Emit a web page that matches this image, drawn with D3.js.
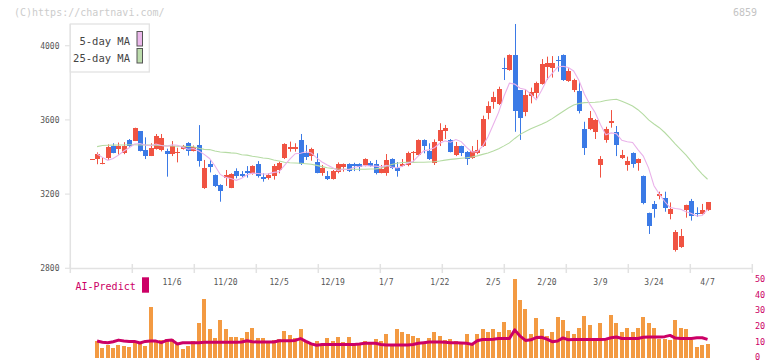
<!DOCTYPE html>
<html><head><meta charset="utf-8">
<script src="https://cdnjs.cloudflare.com/ajax/libs/d3/7.8.5/d3.min.js"></script>
<style>
body{margin:0;background:#fff;}
svg{display:block;}
text{font-family:"DejaVu Sans Mono",monospace;}
</style></head><body><svg id="c" width="772" height="361"></svg>
<script>
const open=[3390,3388,3366,3396,3459,3445,3423,3492,3488,3540,
 3436,3407,3445,3440,3434,3414,3427,3445,3477,3434,
 3465,3235,3362,3303,3251,3287,3235,3324,3308,3324,
 3310,3362,3292,3289,3299,3330,3396,3448,3450,3492,
 3423,3405,3371,3316,3298,3281,3319,3348,3362,3362,
 3362,3357,3369,3362,3316,3312,3389,3341,3353,3357,
 3420,3411,3492,3432,3369,3486,3542,3492,3413,3459,
 3429,3396,3423,3461,3639,3698,3686,3880,3869,3950,
 3761,3641,3731,3743,3793,3887,3882,3925,3950,3811,
 3761,3756,3551,3551,3537,3357,3492,3588,3537,3396,
 3357,3423,3366,3298,3100,3147,3195,3181,3093,2899,
 2917,3114,3163,3097,3093,3114];
const high=[3390,3425,3396,3468,3474,3478,3480,3497,3558,3540,
 3506,3474,3524,3524,3445,3486,3450,3465,3480,3462,
 3572,3384,3384,3306,3253,3330,3312,3339,3324,3351,
 3355,3378,3312,3312,3362,3375,3474,3483,3474,3524,
 3465,3450,3420,3357,3324,3330,3371,3365,3366,3369,
 3366,3393,3378,3384,3357,3416,3393,3373,3389,3429,
 3432,3495,3495,3474,3495,3582,3573,3497,3481,3461,
 3432,3459,3492,3623,3700,3752,3779,3935,3953,4117,
 3761,3761,3774,3806,3928,3941,3944,3944,3953,3878,
 3822,3806,3590,3648,3605,3405,3563,3653,3567,3438,
 3402,3425,3392,3300,3100,3163,3213,3213,3155,3006,
 3012,3143,3174,3129,3147,3156];
const low=[3390,3361,3361,3384,3420,3413,3415,3455,3486,3430,
 3389,3405,3440,3430,3294,3405,3371,3440,3407,3430,
 3348,3228,3317,3238,3159,3244,3232,3285,3289,3289,
 3305,3289,3267,3278,3278,3312,3389,3429,3429,3357,
 3384,3380,3312,3299,3276,3278,3312,3321,3319,3324,
 3324,3350,3348,3306,3312,3299,3335,3294,3348,3350,
 3371,3405,3420,3384,3357,3459,3497,3425,3405,3405,
 3357,3390,3415,3455,3603,3660,3680,3815,3865,3536,
 3492,3620,3689,3716,3790,3815,3828,3860,3810,3805,
 3750,3635,3411,3545,3497,3289,3477,3558,3405,3389,
 3326,3342,3326,3145,2985,3073,3172,3105,3064,2890,
 2910,3073,3057,3078,3090,3110];
const close=[3390,3418,3370,3452,3423,3459,3459,3459,3556,3434,
 3407,3448,3513,3502,3414,3461,3429,3461,3434,3456,
 3380,3341,3348,3242,3218,3303,3308,3299,3296,3312,
 3351,3298,3283,3303,3351,3366,3470,3452,3452,3362,
 3402,3443,3316,3343,3283,3324,3362,3362,3324,3351,
 3348,3387,3351,3316,3335,3384,3342,3326,3362,3423,
 3429,3492,3461,3389,3481,3546,3556,3429,3459,3423,
 3391,3432,3438,3605,3677,3722,3767,3876,3950,3648,
 3612,3734,3749,3797,3900,3905,3905,3920,3815,3864,
 3815,3648,3450,3612,3599,3389,3551,3592,3465,3411,
 3380,3360,3389,3150,3030,3120,3198,3127,3118,2997,
 2976,3141,3084,3093,3114,3156];
const ma5=[null,3416,3398,3382,3392,3410,3432,3450,3470,3473,
 3465,3461,3470,3462,3458,3466,3463,3453,3442,3446,
 3432,3414,3392,3353,3306,3290,3284,3274,3285,3304,
 3313,3311,3308,3309,3317,3320,3355,3388,3418,3420,
 3428,3422,3395,3373,3357,3342,3326,3335,3331,3345,
 3349,3354,3352,3351,3347,3355,3346,3341,3350,3367,
 3376,3406,3433,3439,3450,3474,3487,3480,3494,3483,
 3452,3427,3429,3458,3509,3575,3642,3729,3798,3793,
 3771,3764,3739,3708,3758,3817,3851,3885,3889,3882,
 3864,3812,3740,3685,3640,3575,3520,3530,3525,3490,
 3482,3478,3440,3405,3340,3245,3200,3160,3128,3122,
 3118,3105,3095,3082,3085,3118];
const ma25=[null,3456,3462,3463,3464,3465,3465,3466,3466,3465,
 3465,3464,3463,3462,3460,3459,3458,3458,3457,3455,
 3447,3441,3440,3432,3427,3425,3422,3420,3412,3410,
 3404,3400,3395,3392,3384,3378,3372,3369,3368,3366,
 3364,3361,3355,3348,3342,3338,3335,3334,3334,3334,
 3334,3334,3335,3336,3340,3350,3360,3366,3370,3371,
 3371,3372,3372,3373,3374,3378,3383,3387,3390,3393,
 3396,3400,3406,3414,3422,3432,3445,3460,3476,3500,
 3522,3538,3552,3564,3576,3590,3607,3626,3645,3664,
 3680,3688,3693,3694,3695,3698,3705,3709,3711,3700,
 3688,3675,3655,3630,3600,3578,3558,3532,3502,3470,
 3440,3410,3375,3340,3308,3280];
const volume=[null,10.6,6.2,7.9,6.2,7.9,7.5,6.9,9.0,9.4,
 7.3,32,10.2,11.0,11.7,11.5,9.0,5.4,7.3,10.6,
 22,37,18,12.3,23.7,18.3,12.9,12.9,12.3,16.3,
 18.7,12.3,12.3,10.6,11.0,11.7,16.8,14.2,12.3,18,
 10.4,9.4,10.6,7.5,12.3,10.4,12.9,9.6,12.9,9.0,
 9.0,10.4,9.6,11.7,10.4,14.9,7.9,18,16.3,14.9,
 13.6,12.3,9.8,12.3,16.3,13.6,11.0,11.7,10.2,9.4,
 14.9,7.9,14.9,18,16.3,18,16.3,22.5,17.4,49.7,
 36.4,30.7,14.9,25,18,13.6,16.3,25.6,23.7,17,
 14.9,18.7,26.3,20.6,10.9,21.8,10.9,26.9,22,16.3,
 18.7,16.3,18.7,25.6,22,18.7,11.7,11.7,11,23.7,
 18.7,18,11,6.6,7.9,8.4];
const aiPredict=[null,10.4,9.6,9.4,10.0,11.0,10.4,10.2,10.2,9.2,
 10.2,10.4,10.4,9.4,10.8,11.0,8.6,9.3,9.4,9.4,
 9.4,9.6,9.6,9.6,9.6,9.6,9.6,9.6,9.8,10.6,
 10.0,9.8,9.8,9.8,9.8,10.6,10.6,10.6,10.8,12.0,
 10.2,8.6,7.8,8.2,8.3,8.3,8.3,8.3,8.3,8.3,
 8.5,9.0,9.0,9.0,8.2,7.9,7.9,7.9,7.9,7.9,
 8.2,9.0,9.4,9.8,9.8,9.8,9.6,9.4,9.4,9.2,
 9.0,8.3,10.6,11.4,11.4,11.6,12.0,12.0,12.0,17.5,
 13.5,10.8,11.2,12.6,12.8,11.6,10.0,10.4,12.4,11.2,
 11.4,11.4,11.4,11.4,11.4,11.4,11.6,12.5,13.0,12.0,
 12.0,12.0,12.0,12.8,12.9,12.9,12.9,13.2,14.0,12.3,
 12.0,12.0,12.0,12.5,12.5,11.5];
const xLabelIdx=[15,25,35,45,55,65,75,85,95,105,115];
const xLabels=["11/6","11/20","12/5","12/19","1/7","1/22","2/5","2/20","3/9","3/24","4/7"];
const priceTicks=[2800,3200,3600,4000];
const volTicks=[0,10,20,30,40,50];

const UP="#f05342", DOWN="#3b7ae6", AXIS="#e2e2e2", MAG="#cc0066";
const svg=d3.select("#c");
const idx=d3.range(close.length);
const x=d3.scaleLinear().domain([-4,123.36]).range([70.3,752.3]);
const y=d3.scaleLinear().domain([2800,4000]).range([268.3,45.7]);
const yv=d3.scaleLinear().domain([0,50]).range([357.5,278.5]);

// header texts
svg.append("text").attr("x",14).attr("y",16).attr("font-size",10).attr("fill","#cccccc").text("(C)https://chartnavi.com/");
svg.append("text").attr("x",757).attr("y",16).attr("text-anchor","end").attr("font-size",10).attr("fill","#c4c4c4").text("6859");

// axes
const dom=x.domain();
const xTickVals=d3.range(12).map(k=>dom[0]+k*(dom[1]-dom[0])/11);
svg.append("line").attr("x1",x(dom[0])).attr("x2",x(dom[0])).attr("y1",24).attr("y2",268.5).attr("stroke",AXIS).attr("stroke-width",1.5);
svg.append("line").attr("x1",x(dom[0])).attr("x2",x(dom[1])).attr("y1",268.5).attr("y2",268.5).attr("stroke",AXIS).attr("stroke-width",1.5);
svg.selectAll(".xt").data(xTickVals).join("line").attr("x1",d=>x(d)).attr("x2",d=>x(d)).attr("y1",264).attr("y2",273).attr("stroke",AXIS).attr("stroke-width",1.5);
svg.selectAll(".yt").data(priceTicks).join("line").attr("x1",65).attr("x2",70.3).attr("y1",d=>y(d)).attr("y2",d=>y(d)).attr("stroke",AXIS).attr("stroke-width",1.2);
svg.selectAll(".yl").data(priceTicks).join("text").attr("x",59.5).attr("y",d=>y(d)+3).attr("text-anchor","end").attr("font-size",8).attr("fill","#555").text(d=>d);
svg.selectAll(".xl").data(xLabelIdx).join("text").attr("x",d=>x(d)).attr("y",285).attr("text-anchor","middle").attr("font-size",8).attr("fill","#555").text((d,i)=>xLabels[i]);

// candles
const g=svg.append("g");
const col=i=>close[i]>=open[i]?UP:DOWN;
g.selectAll(".wick").data(idx).join("line")
 .attr("x1",i=>Math.round(x(i))+0.5).attr("x2",i=>Math.round(x(i))+0.5)
 .attr("y1",i=>y(high[i])).attr("y2",i=>y(low[i]))
 .attr("stroke",col).attr("stroke-width",1);
g.selectAll(".body").data(idx).join("rect")
 .attr("x",i=>Math.round(x(i))-2).attr("width",5)
 .attr("y",i=>y(Math.max(open[i],close[i])))
 .attr("height",i=>Math.max(1.2,y(Math.min(open[i],close[i]))-y(Math.max(open[i],close[i]))))
 .attr("fill",col).attr("shape-rendering","crispEdges");

// MA lines
const mline=d3.line().defined(d=>d[1]!=null).x(d=>x(d[0])).y(d=>y(d[1]));
svg.append("path").attr("d",mline(ma25.map((v,i)=>[i,v]))).attr("fill","none").attr("stroke","#b5dba3").attr("stroke-width",1.1);
svg.append("path").attr("d",mline(ma5.map((v,i)=>[i,v]))).attr("fill","none").attr("stroke","#eab2ea").attr("stroke-width",1.1);

// legend
svg.append("rect").attr("x",70.3).attr("y",24).attr("width",79).attr("height",48).attr("fill","#fff").attr("stroke","#e2e2e2").attr("stroke-width",1.3);
svg.append("text").attr("x",130).attr("y",45).attr("text-anchor","end").attr("font-size",10.5).attr("fill","#444").text("5-day MA");
svg.append("text").attr("x",130).attr("y",61.5).attr("text-anchor","end").attr("font-size",10.5).attr("fill","#444").text("25-day MA");
svg.append("rect").attr("x",137).attr("y",31.5).attr("width",5.5).attr("height",14.5).attr("fill","#ebb8eb").attr("stroke","#555").attr("stroke-width",1);
svg.append("rect").attr("x",137).attr("y",48.5).attr("width",5.5).attr("height",14.5).attr("fill","#bcdcac").attr("stroke","#555").attr("stroke-width",1);

// volume panel
svg.selectAll(".vol").data(idx.filter(i=>volume[i]!=null)).join("rect")
 .attr("x",i=>Math.round(x(i))-2.5).attr("width",4)
 .attr("y",i=>yv(volume[i])).attr("height",i=>yv(0)-yv(volume[i]))
 .attr("fill","#f39a42").attr("shape-rendering","crispEdges");
const aline=d3.line().defined(d=>d[1]!=null).x(d=>x(d[0])).y(d=>yv(d[1]));
svg.append("path").attr("d",aline(aiPredict.map((v,i)=>[i,v]))).attr("fill","none").attr("stroke",MAG).attr("stroke-width",3).attr("stroke-linejoin","round");
svg.selectAll(".vt").data(volTicks).join("text").attr("x",755).attr("y",d=>Math.min(yv(d)+3.2,359.5)).attr("font-size",8.5).attr("fill",MAG).text(d=>d);
svg.append("text").attr("x",75.5).attr("y",289.5).attr("font-size",10).attr("fill",MAG).text("AI-Predict");
svg.append("rect").attr("x",142).attr("y",277.3).attr("width",7).attr("height",15.4).attr("fill",MAG);
</script></body></html>
